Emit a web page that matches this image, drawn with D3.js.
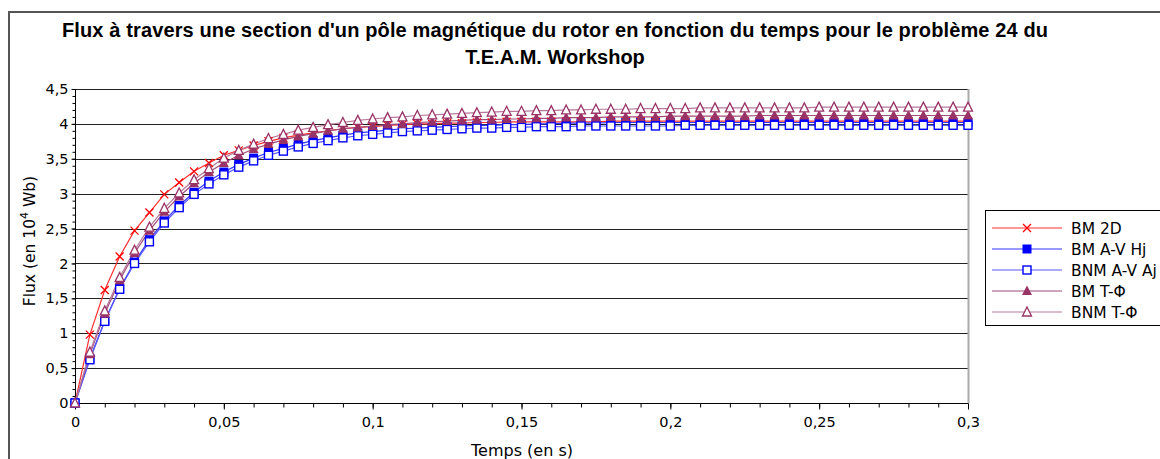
<!DOCTYPE html>
<html><head><meta charset="utf-8">
<script src="https://cdn.jsdelivr.net/npm/d3@7"></script>
<style>
html,body{margin:0;padding:0;background:#fff;}
svg{display:block;}
</style></head>
<body>
<svg id="chart" width="1160" height="459"></svg>
<script>
// ---- data ----
const timeStep = 0.005; // 61 samples from 0 to 0.3 s
const times = d3.range(61).map(i => +(i * timeStep).toFixed(3));
const seriesNames = ["BM 2D", "BM A-V Hj", "BNM A-V Aj", "BM T-\u03A6", "BNM T-\u03A6"];
const bm2d = [0,0.98,1.62,2.10,2.47,2.73,2.99,3.16,3.32,3.44,3.55,3.62,3.69,3.75,3.80,3.84,3.87,3.90,3.93,3.95,3.96,3.98,3.99,4.00,4.00,4.01,4.01,4.02,4.02,4.03,4.03,4.03,4.03,4.03,4.03,4.03,4.04,4.04,4.04,4.04,4.04,4.04,4.04,4.04,4.04,4.04,4.04,4.04,4.04,4.04,4.04,4.04,4.04,4.04,4.04,4.04,4.04,4.04,4.04,4.04,4.04];
const bmAVHj = [0,0.64,1.18,1.64,2.02,2.34,2.61,2.83,3.02,3.18,3.31,3.42,3.51,3.59,3.65,3.71,3.76,3.80,3.84,3.87,3.89,3.91,3.93,3.94,3.95,3.96,3.97,3.98,3.98,3.99,3.99,4.00,4.00,4.01,4.01,4.01,4.02,4.02,4.02,4.02,4.02,4.02,4.02,4.02,4.02,4.02,4.02,4.02,4.02,4.02,4.02,4.02,4.02,4.02,4.02,4.02,4.02,4.02,4.02,4.02,4.02];
const bnmAVAj = [0,0.62,1.17,1.63,2.00,2.31,2.58,2.80,2.99,3.14,3.27,3.38,3.47,3.55,3.61,3.67,3.72,3.76,3.80,3.83,3.85,3.87,3.89,3.90,3.91,3.92,3.93,3.94,3.94,3.95,3.95,3.96,3.96,3.96,3.97,3.97,3.97,3.97,3.97,3.97,3.97,3.98,3.98,3.98,3.98,3.98,3.98,3.98,3.98,3.98,3.98,3.98,3.98,3.98,3.98,3.98,3.98,3.98,3.98,3.98,3.98];
const bmTPhi = [0,0.70,1.28,1.76,2.15,2.47,2.74,2.96,3.15,3.31,3.44,3.55,3.64,3.71,3.77,3.82,3.86,3.90,3.93,3.95,3.97,3.99,4.00,4.02,4.03,4.04,4.05,4.06,4.06,4.07,4.07,4.08,4.08,4.09,4.09,4.09,4.10,4.10,4.10,4.10,4.11,4.11,4.11,4.11,4.11,4.11,4.12,4.12,4.12,4.12,4.12,4.12,4.12,4.12,4.12,4.12,4.12,4.12,4.12,4.12,4.12];
const bnmTPhi = [0,0.73,1.32,1.80,2.19,2.52,2.79,3.01,3.20,3.36,3.51,3.62,3.71,3.79,3.85,3.91,3.95,3.99,4.02,4.05,4.07,4.09,4.10,4.12,4.13,4.14,4.15,4.16,4.17,4.18,4.18,4.19,4.19,4.20,4.20,4.21,4.21,4.21,4.22,4.22,4.22,4.22,4.23,4.23,4.23,4.23,4.23,4.23,4.23,4.23,4.24,4.24,4.24,4.24,4.24,4.24,4.24,4.24,4.24,4.24,4.24];
const xTickValues = [0,0.05,0.1,0.15,0.2,0.25,0.3];
const yTickValues = [0,0.5,1,1.5,2,2.5,3,3.5,4,4.5];
const titleLines = ["Flux \u00e0 travers une section d'un p\u00f4le magn\u00e9tique du rotor en fonction du temps pour le probl\u00e8me 24 du", "T.E.A.M. Workshop"];

const seriesValues = [bm2d, bmAVHj, bnmAVAj, bmTPhi, bnmTPhi];
const styles = [
  {line:"#ff3030", mark:"#ff0000", shape:"x"},
  {line:"#3333ff", mark:"#0000ff", shape:"sqf"},
  {line:"#5a5aff", mark:"#0000ff", shape:"sqo"},
  {line:"#a04d7a", mark:"#993366", shape:"trf"},
  {line:"#b87a9c", mark:"#993366", shape:"tro"}
];

const svg = d3.select("#chart");
const fmt = v => String(v).replace(".", ",");

// outer frame
svg.append("path").attr("d","M9,470 V12 H1170").attr("fill","none").attr("stroke","#555").attr("stroke-width",2);

// title
svg.append("g").selectAll("text").data(titleLines).join("text")
  .attr("x",555).attr("y",(d,i)=>37+i*27).attr("text-anchor","middle")
  .attr("font-family","Liberation Sans, Arial, sans-serif").attr("font-weight","bold").attr("font-size",20)
  .attr("textLength",(d,i)=>i===0?986:null)
  .attr("fill","#000").text(d=>d);

const x = d3.scaleLinear().domain([0,0.3]).range([75,968]);
const y = d3.scaleLinear().domain([0,4.5]).range([403,89]);

// gridlines
svg.append("g").selectAll("line").data(yTickValues.filter(v=>v>0)).join("line")
  .attr("x1",75).attr("x2",968).attr("y1",d=>Math.round(y(d))+0.5).attr("y2",d=>Math.round(y(d))+0.5)
  .attr("stroke","#222").attr("stroke-width",1);
// right border
svg.append("line").attr("x1",968.5).attr("x2",968.5).attr("y1",89).attr("y2",403).attr("stroke","#aaa").attr("stroke-width",2);

const tickFont = "DejaVu Sans, Verdana, sans-serif";
// y axis
const yAxis = d3.axisLeft(y).tickValues(yTickValues).tickFormat(fmt).tickSize(4).tickPadding(3);
const gy = svg.append("g").attr("transform","translate(75.5,0)").call(yAxis);
const yMinor = d3.axisLeft(y).tickValues(d3.range(0,4.51,0.1).map(v=>+v.toFixed(1))).tickFormat("").tickSize(3);
svg.append("g").attr("transform","translate(75.5,0)").call(yMinor).select(".domain").remove();
// x axis
const xAxis = d3.axisBottom(x).tickValues(xTickValues).tickFormat(fmt).tickSize(6).tickPadding(7);
const gx = svg.append("g").attr("transform","translate(0,403.5)").call(xAxis);
const xMinor = d3.axisBottom(x).tickValues(d3.range(0,0.301,0.01).map(v=>+v.toFixed(2))).tickFormat("").tickSize(4);
svg.append("g").attr("transform","translate(0,403.5)").call(xMinor).select(".domain").remove();
svg.selectAll(".tick text").attr("font-family",tickFont).attr("font-size",14.5).attr("fill","#000");
svg.selectAll(".domain, .tick line").attr("stroke","#000");
gy.select(".domain").attr("d","M0,89V403");
gx.select(".domain").attr("d","M75,0H968");

// axis titles
svg.append("text").attr("x",522).attr("y",456).attr("text-anchor","middle")
  .attr("font-family",tickFont).attr("font-size",16).text("Temps (en s)");
const yt = svg.append("text").attr("transform","translate(35,241) rotate(-90)").attr("text-anchor","middle")
  .attr("font-family",tickFont).attr("font-size",15.5);
yt.append("tspan").text("Flux (en 10");
yt.append("tspan").attr("dy",-7).attr("font-size",11).text("4");
yt.append("tspan").attr("dy",7).text(" Wb)");

// marker drawer
function drawMarker(g, shape, color){
  if(shape==="x"){
    g.append("path").attr("d","M-4,-4L4,4M-4,4L4,-4").attr("stroke",color).attr("stroke-width",1.3).attr("fill","none");
  } else if(shape==="sqf"){
    g.append("rect").attr("x",-4.5).attr("y",-4.5).attr("width",9).attr("height",9).attr("fill",color);
  } else if(shape==="sqo"){
    g.append("rect").attr("x",-4).attr("y",-4).attr("width",8).attr("height",8).attr("fill","#fff").attr("stroke",color).attr("stroke-width",1.4);
  } else if(shape==="trf"){
    g.append("path").attr("d","M0,-5.5L5,4L-5,4Z").attr("fill",color);
  } else if(shape==="tro"){
    g.append("path").attr("d","M0,-5L4.5,4L-4.5,4Z").attr("fill","#fff").attr("stroke",color).attr("stroke-width",1.3);
  }
}

const line = d3.line().x((d,i)=>x(times[i])).y(d=>y(d));
const plot = svg.append("g");
seriesValues.forEach((vals,s)=>{
  plot.append("path").datum(vals).attr("d",line).attr("fill","none").attr("stroke",styles[s].line).attr("stroke-width",1.2);
});
seriesValues.forEach((vals,s)=>{
  vals.forEach((v,i)=>{
    const g = plot.append("g").attr("transform",`translate(${x(times[i])},${y(v)})`);
    drawMarker(g, styles[s].shape, styles[s].mark);
  });
});

// legend
const lg = svg.append("g");
lg.append("rect").attr("x",985.5).attr("y",210.5).attr("width",200).attr("height",115).attr("fill","#fff").attr("stroke","#000");
seriesNames.forEach((name,i)=>{
  const yy = 228 + i*21;
  lg.append("line").attr("x1",992).attr("x2",1062).attr("y1",yy).attr("y2",yy).attr("stroke",styles[i].line).attr("stroke-width",1.2);
  drawMarker(lg.append("g").attr("transform",`translate(1027,${yy})`), styles[i].shape, styles[i].mark);
  lg.append("text").attr("x",1071).attr("y",yy+5.5).attr("font-family",tickFont).attr("font-size",15.5).text(name);
});
</script>
</body></html>
